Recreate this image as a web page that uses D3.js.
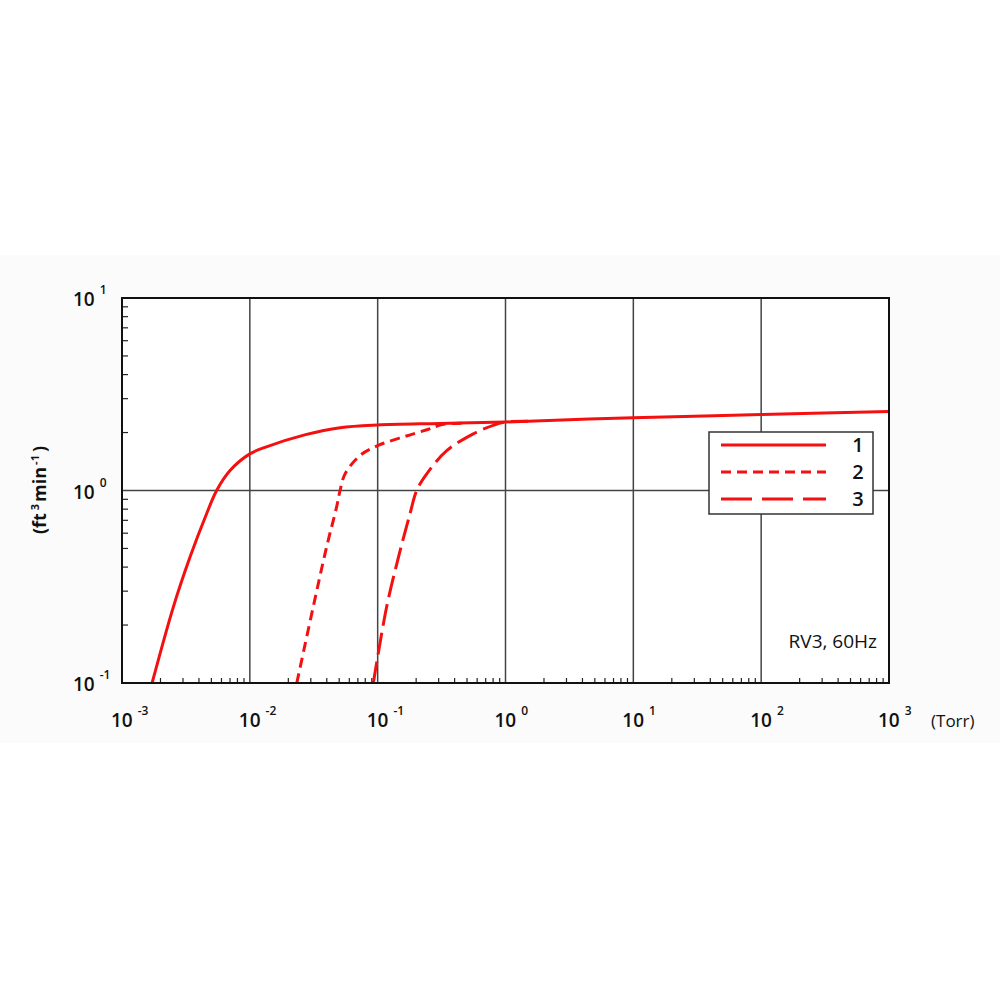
<!DOCTYPE html>
<html>
<head>
<meta charset="utf-8">
<script src="https://cdn.jsdelivr.net/npm/d3@7"></script>
<style>
        body { margin: 0; background: #fff; }
        svg { display: block; }
        text { font-family: "Open Sans", "DejaVu Sans", sans-serif; fill: #111; }
</style>
</head>
<body>
<svg id="chart" width="1000" height="1000"></svg>
<script>
// pumping speed curves, pressure in Torr, speed in ft3/min
var pressure1 = [0.00172, 0.00252, 0.0034, 0.00459, 0.0055, 0.007, 0.01, 0.0133, 0.0273, 0.0508, 0.1, 0.308, 1, 10, 100, 1000];
var speed1    = [0.1, 0.248, 0.45, 0.757, 1.0, 1.27, 1.55, 1.68, 1.95, 2.12, 2.19, 2.23, 2.27, 2.39, 2.48, 2.57];

var pressure2 = [0.0233, 0.0313, 0.0398, 0.0477, 0.0508, 0.0556, 0.0728, 0.1, 0.168, 0.25, 0.32, 0.5];
var speed2    = [0.1, 0.248, 0.507, 0.819, 1.0, 1.22, 1.52, 1.71, 1.92, 2.08, 2.2, 2.24];

var pressure3 = [0.0925, 0.1175, 0.150, 0.179, 0.202, 0.242, 0.347, 0.56, 0.80, 1.0, 1.5];
var speed3    = [0.1, 0.248, 0.488, 0.757, 1.0, 1.22, 1.61, 1.97, 2.18, 2.27, 2.29];

var xDecades = [-3, -2, -1, 0, 1, 2, 3];
var yDecades = [-1, 0, 1];
var legendNames = ["1", "2", "3"];
var dashes = [null, "10,6", "22,7"];

var svg = d3.select("#chart");

var plotLeft = 122, plotRight = 889, plotTop = 298, plotBottom = 683;

var x = d3.scaleLog().domain([1e-3, 1e3]).range([plotLeft, plotRight]);
var y = d3.scaleLog().domain([1e-1, 1e1]).range([plotBottom, plotTop]);

// faint background band
svg.append("rect")
        .attr("x", 0).attr("y", 255)
        .attr("width", 1000).attr("height", 488)
        .attr("fill", "#fbfbfb");

svg.append("rect")
        .attr("x", plotLeft).attr("y", plotTop)
        .attr("width", plotRight - plotLeft).attr("height", plotBottom - plotTop)
        .attr("fill", "#fff");

var grid = svg.append("g");

// vertical grid at each decade
grid.selectAll(".vgrid")
        .data(xDecades.slice(1, -1))
        .enter().append("line")
        .attr("x1", function(d) { return x(Math.pow(10, d)); })
        .attr("x2", function(d) { return x(Math.pow(10, d)); })
        .attr("y1", plotTop).attr("y2", plotBottom)
        .attr("stroke", "#444").attr("stroke-width", 1.5);

grid.append("line")
        .attr("x1", plotLeft).attr("x2", plotRight)
        .attr("y1", y(1)).attr("y2", y(1))
        .attr("stroke", "#444").attr("stroke-width", 1.5);

// minor ticks, inside the frame
var xMinor = [], yMinor = [];
for (var i = 0; i < xDecades.length - 1; i++) {
        for (var k = 2; k <= 9; k++) xMinor.push(k * Math.pow(10, xDecades[i]));
}
for (var j = 0; j < yDecades.length - 1; j++) {
        for (var m = 2; m <= 9; m++) yMinor.push(m * Math.pow(10, yDecades[j]));
}

grid.selectAll(".xminor")
        .data(xMinor)
        .enter().append("line")
        .attr("x1", function(d) { return x(d); })
        .attr("x2", function(d) { return x(d); })
        .attr("y1", plotBottom).attr("y2", plotBottom - 5)
        .attr("stroke", "#222").attr("stroke-width", 1.2);

grid.selectAll(".yminor")
        .data(yMinor)
        .enter().append("line")
        .attr("x1", plotLeft).attr("x2", plotLeft + 6)
        .attr("y1", function(d) { return y(d); })
        .attr("y2", function(d) { return y(d); })
        .attr("stroke", "#222").attr("stroke-width", 1.2);

// curves
var line = d3.line()
        .x(function(d) { return x(d[0]); })
        .y(function(d) { return y(d[1]); })
        .curve(d3.curveCatmullRom.alpha(0.5));

var series = [
        d3.zip(pressure1, speed1),
        d3.zip(pressure2, speed2),
        d3.zip(pressure3, speed3)
];

svg.append("clipPath").attr("id", "clip")
        .append("rect")
        .attr("x", plotLeft).attr("y", plotTop)
        .attr("width", plotRight - plotLeft).attr("height", plotBottom - plotTop);

svg.append("g").attr("clip-path", "url(#clip)")
        .selectAll("path")
        .data(series)
        .enter().append("path")
        .attr("d", line)
        .attr("fill", "none")
        .attr("stroke", "#f41010")
        .attr("stroke-width", 3)
        .attr("stroke-dasharray", function(d, i) { return dashes[i]; });

// frame
svg.append("rect")
        .attr("x", plotLeft).attr("y", plotTop)
        .attr("width", plotRight - plotLeft).attr("height", plotBottom - plotTop)
        .attr("fill", "none")
        .attr("stroke", "#111").attr("stroke-width", 2);

// x tick labels
var xl = svg.selectAll(".xlab")
        .data(xDecades)
        .enter().append("text")
        .attr("x", function(d) { return x(Math.pow(10, d)) - 11; })
        .attr("y", 727)
        .style("font-size", "19px")
        .style("font-weight", 600);
xl.append("tspan").text("10");
xl.append("tspan")
        .attr("dx", 5).attr("dy", -12)
        .style("font-size", "12px")
        .text(function(d) { return d < 0 ? "-" + (-d) : d; });

// y tick labels
var yl = svg.selectAll(".ylab")
        .data(yDecades)
        .enter().append("text")
        .attr("x", 73)
        .attr("y", function(d) { return y(Math.pow(10, d)) + 8; })
        .style("font-size", "19px")
        .style("font-weight", 600);
yl.append("tspan").text("10");
yl.append("tspan")
        .attr("dx", 5).attr("dy", -12)
        .style("font-size", "12px")
        .text(function(d) { return d < 0 ? "-" + (-d) : d; });

svg.append("text")
        .attr("x", 931).attr("y", 727)
        .style("font-size", "17px")
        .text("(Torr)");

// y axis title
var yt = svg.append("text")
        .attr("transform", "translate(46,490) rotate(-90)")
        .attr("text-anchor", "middle")
        .style("font-size", "18px")
        .style("font-weight", 700);
yt.append("tspan").text("(ft");
yt.append("tspan").attr("dx", 3).attr("dy", -7).style("font-size", "11px").text("3");
yt.append("tspan").attr("dx", 2).attr("dy", 7).text("min");
yt.append("tspan").attr("dx", 2).attr("dy", -7).style("font-size", "11px").text("-1");
yt.append("tspan").attr("dx", 3).attr("dy", 7).text(")");

svg.append("text")
        .attr("x", 877).attr("y", 648)
        .attr("text-anchor", "end")
        .style("font-size", "19px")
        .text("RV3,  60Hz");

// legend
var legend = svg.append("g");
legend.append("rect")
        .attr("x", 709).attr("y", 432)
        .attr("width", 164).attr("height", 82)
        .attr("fill", "#fff")
        .attr("stroke", "#333").attr("stroke-width", 1.5);

var rows = legend.selectAll(".row")
        .data(legendNames)
        .enter().append("g")
        .attr("transform", function(d, i) { return "translate(0," + (445 + i * 27) + ")"; });

rows.append("line")
        .attr("x1", 721).attr("x2", 826)
        .attr("y1", 0).attr("y2", 0)
        .attr("stroke", "#f41010")
        .attr("stroke-width", 2.8)
        .attr("stroke-dasharray", function(d, i) { return i == 2 ? "31,10" : dashes[i]; });

rows.append("text")
        .attr("x", 858).attr("y", 7)
        .attr("text-anchor", "middle")
        .style("font-size", "20px")
        .style("font-weight", 600)
        .text(function(d) { return d; });
</script>
</body>
</html>
